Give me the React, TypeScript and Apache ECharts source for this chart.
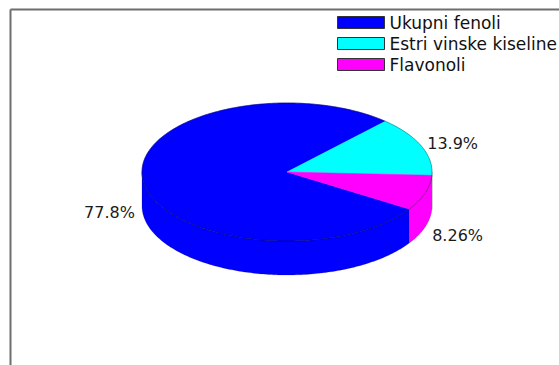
import React, { useEffect, useRef } from "react";
import * as echarts from "echarts";

const CATEGORIES = ["Ukupni fenoli", "Estri vinske kiseline", "Flavonoli"];
const VALUES = [77.8, 13.9, 8.26];
const LABELS = ["77.8%", "13.9%", "8.26%"];
const COLORS = ["#0000ff", "#00ffff", "#ff00ff"];

// layout (pixels / degrees)
const CX = 287;
const CY = 172;
const RX = 145;
const RY = 69;
const DEPTH = 34;
const START = -32.5;
const LCY = 195;
const LRX = 179;
const LRY = 135;

const rad = (d: number) => (d * Math.PI) / 180;

function arcPoints(hi: number, lo: number, dy: number) {
  const pts: number[][] = [];
  const n = Math.max(2, Math.ceil((hi - lo) / 1));
  for (let k = 0; k <= n; k++) {
    const a = hi - ((hi - lo) * k) / n;
    pts.push([CX + RX * Math.cos(rad(a)), CY + dy - RY * Math.sin(rad(a))]);
  }
  return pts;
}

function makeRenderItem(idx: number) {
  return (_params: any, _api: any) => {
    const total = VALUES.reduce((s, v) => s + v, 0);
    let before = 0;
    for (let i = 0; i < idx; i++) before += VALUES[i];
    const hi = START - (before / total) * 360;
    const lo = hi - (VALUES[idx] / total) * 360;
    const color = COLORS[idx];
    const children: any[] = [];

    // side walls (front half only)
    for (let k = -2; k <= 1; k++) {
      const a0 = Math.max(lo, k * 360 - 180);
      const a1 = Math.min(hi, k * 360);
      if (a1 > a0) {
        const top = arcPoints(a1, a0, 0);
        const bottom = arcPoints(a1, a0, DEPTH).reverse();
        children.push({
          type: "polygon",
          z2: 1,
          shape: { points: top.concat(bottom) },
          style: { fill: color, stroke: "rgba(0,0,0,0.35)", lineWidth: 0.5 },
        });
      }
    }

    // top face
    const topArc = arcPoints(hi, lo, 0);
    children.push({
      type: "polygon",
      z2: 10,
      shape: { points: [[CX, CY]].concat(topArc) },
      style: { fill: color, stroke: color, lineWidth: 0.5 },
    });
    children.push({
      type: "polyline",
      z2: 11,
      shape: { points: topArc },
      style: { fill: null, stroke: "rgba(0,0,0,0.55)", lineWidth: 0.6 },
    });

    // label
    const mid = (hi + lo) / 2;
    children.push({
      type: "text",
      z2: 20,
      x: CX + LRX * Math.cos(rad(mid)),
      y: LCY - LRY * Math.sin(rad(mid)),
      style: {
        text: LABELS[idx],
        fill: "#1a1a1a",
        fontSize: 16,
        fontFamily: "DejaVu Sans",
        align: "center",
        verticalAlign: "middle",
      },
    });

    return { type: "group", children };
  };
}

export default function App() {
  const ref = useRef<HTMLDivElement>(null);

  useEffect(() => {
    document.body.style.margin = "0";
    if (!ref.current) return;
    const chart = echarts.init(ref.current, undefined, { renderer: "svg" });
    chart.setOption({
      animation: false,
      color: COLORS,
      backgroundColor: "#ffffff",
      legend: {
        orient: "vertical",
        left: 337,
        top: 14,
        padding: 0,
        itemWidth: 47,
        itemHeight: 12,
        itemGap: 4,
        selectedMode: false,
        icon: "rect",
        itemStyle: { borderColor: "#333333", borderWidth: 1 },
        textStyle: {
          fontFamily: "DejaVu Sans",
          fontSize: 17,
          lineHeight: 17,
          color: "#111111",
        },
        data: CATEGORIES,
      },
      graphic: [
        {
          type: "line",
          shape: { x1: 10.5, y1: 9.5, x2: 559, y2: 9.5 },
          style: { stroke: "#6e6e6e", lineWidth: 2 },
        },
        {
          type: "line",
          shape: { x1: 10.5, y1: 9.5, x2: 10.5, y2: 365 },
          style: { stroke: "#6e6e6e", lineWidth: 2 },
        },
      ],
      series: CATEGORIES.map((name, i) => ({
        type: "custom",
        name,
        coordinateSystem: "none",
        silent: true,
        itemStyle: { color: COLORS[i] },
        data: [[VALUES[i]]],
        renderItem: makeRenderItem(i),
      })),
    });
    return () => chart.dispose();
  }, []);

  return <div ref={ref} style={{ width: 559, height: 365 }} />;
}
